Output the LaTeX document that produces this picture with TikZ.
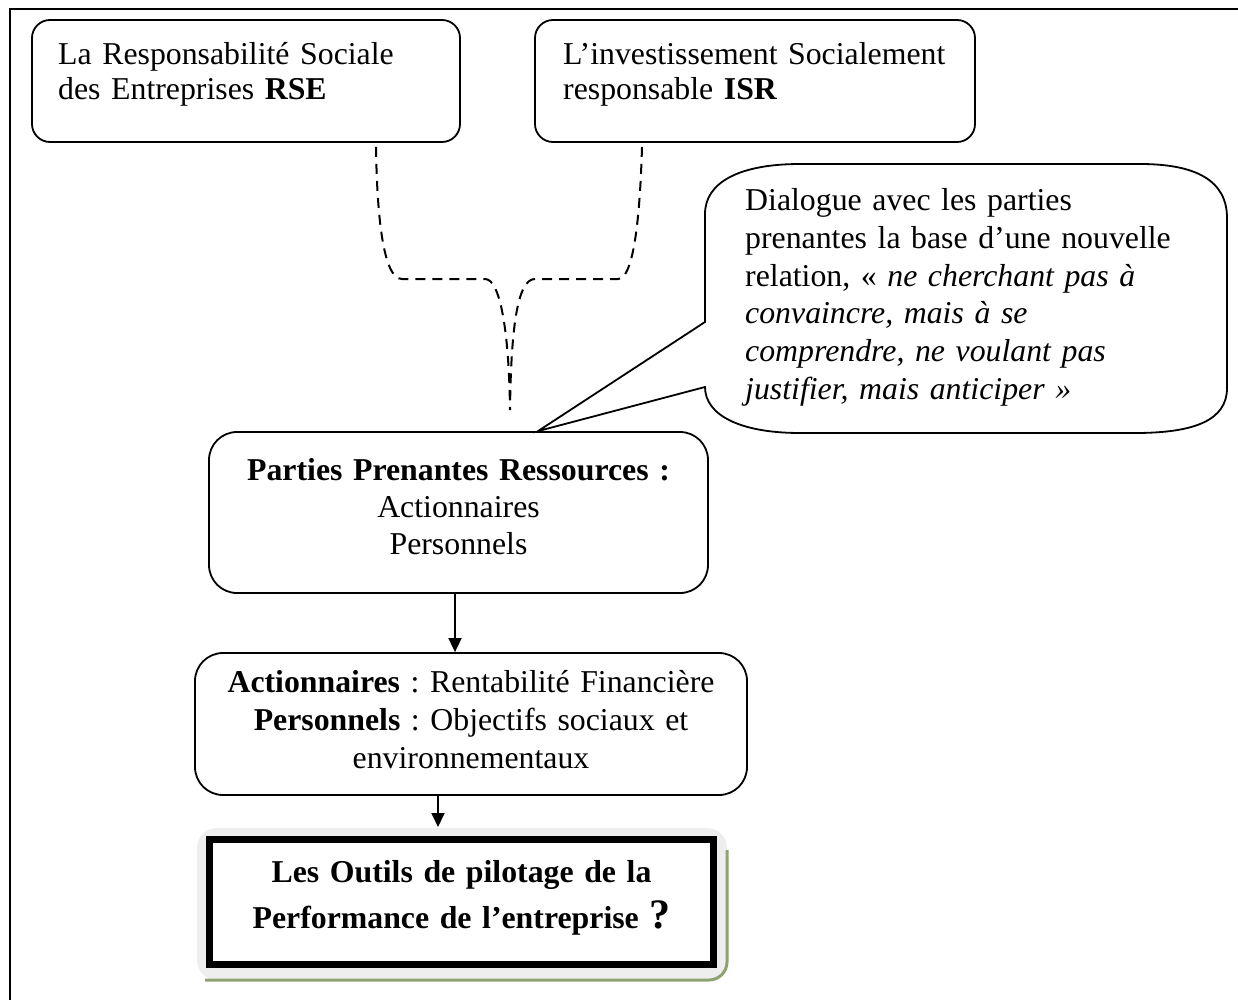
\documentclass[tikz,border=0pt]{standalone}
\usepackage{fontspec}
\setmainfont{Liberation Serif}
\usetikzlibrary{arrows.meta,calc}
\definecolor{bevelgray}{RGB}{238,238,238}
\definecolor{bevelgreen}{RGB}{140,162,112}
\begin{document}
\frenchspacing
\begin{tikzpicture}[x=1pt,y=-1pt,
  every node/.style={font=\fontsize{31.8}{36.6}\selectfont},
  rbox/.style={draw, line width=1.8pt, rounded corners=18pt, inner sep=0pt},
  txt/.style={inner sep=0pt},
  dashline/.style={line width=2pt, dash pattern=on 10pt off 7pt},
  flow/.style={line width=1.8pt, -{Triangle[length=14pt,width=13pt]}},
  callout/.style={draw, line width=1.8pt, fill=white}
]
\useasboundingbox (0,0) rectangle (1238,1000);

% page frame
\draw[line width=1.6pt] (10,1000) -- (10,9) -- (1238,9);

% top boxes
\node[rbox, minimum width=428pt, minimum height=122pt] (rse) at (246,81) {};
\node[txt, anchor=base west, text width=390pt, align=left,
      font=\fontsize{31.8}{35}\selectfont] (rsetxt) at (58,65)
  {La Responsabilité Sociale\\des Entreprises \textbf{RSE}};

\node[rbox, minimum width=440pt, minimum height=122pt] (isr) at (755,81) {};
\node[txt, anchor=base west, text width=400pt, align=left,
      font=\fontsize{31.8}{35}\selectfont] (isrtxt) at (563,65)
  {L’investissement Socialement\\responsable \textbf{ISR}};

% stakeholders box
\node[rbox, rounded corners=28pt, minimum width=499pt, minimum height=161pt] (parties) at (458.5,512.5) {};
\node[txt, anchor=base, text width=480pt, align=center,
      font=\fontsize{31.8}{37}\selectfont] (partiestxt) at (458.5,480)
  {\textbf{Parties Prenantes Ressources :}\\Actionnaires\\Personnels};

% dashed brace joining the two top boxes
\coordinate (join) at (510,410);
\draw[dashline] ([xshift=130pt,yshift=-4pt]rse.south)
  .. controls (377,215) and (383,279) .. (402,279) -- (485,279)
  .. controls (500,279) and (509,330) .. (join);
\draw[dashline] ([xshift=-113pt,yshift=-4pt]isr.south)
  .. controls (640,215) and (634,279) .. (618,279) -- (535,279)
  .. controls (517,279) and (511,330) .. (join);

% speech bubble
\coordinate (tip) at ([xshift=79.5pt]parties.north);
\draw[callout] (800,164) -- (1140,164)
  .. controls (1195,164) and (1227,180) .. (1227,218) -- (1227,388)
  .. controls (1227,420) and (1195,433) .. (1135,433) -- (800,433)
  .. controls (740,433) and (705,415) .. (705,387) -- (tip) -- (705,322)
  -- (705,214) .. controls (705,182) and (740,164) .. (800,164) -- cycle;
\node[txt, anchor=base west, text width=470pt, align=left,
      font=\fontsize{31.8}{37.6}\selectfont] (dialogue) at (745,211)
  {Dialogue avec les parties\\
   prenantes la base d’une nouvelle\\
   relation, « \textit{ne cherchant pas à}\\
   \textit{convaincre, mais à se}\\
   \textit{comprendre, ne voulant pas}\\
   \textit{justifier, mais anticiper »}};

% objectives box
\node[rbox, rounded corners=28pt, minimum width=552pt, minimum height=142pt] (objectifs) at (471,724) {};
\node[txt, anchor=base, text width=540pt, align=center,
      font=\fontsize{31.8}{38}\selectfont] (objtxt) at (471,692)
  {\textbf{Actionnaires} : Rentabilité Financière\\
   \textbf{Personnels} : Objectifs sociaux et\\
   environnementaux};

% bevelled frame behind the final box
\fill[bevelgray, rounded corners=20pt] (197,828) rectangle (727,980);
\draw[bevelgreen, line width=3pt, rounded corners=18pt] (727,850) -- (727,980) -- (205,980);

% final box
\node[draw, line width=7pt, fill=white, minimum width=504pt, minimum height=125pt, inner sep=0pt] (outils) at (461.5,902) {};
\node[txt, anchor=base, text width=500pt, align=center,
      font=\fontsize{31.8}{46}\selectfont\bfseries] (outilstxt) at (461.5,882)
  {Les Outils de pilotage de la\\
   Performance de l’entreprise {\fontsize{42}{42}\selectfont ?}};

% arrows
\coordinate (a1s) at ([xshift=-3.5pt]parties.south);
\draw[flow] (a1s) -- (a1s |- objectifs.north);
\coordinate (a2s) at ([xshift=-33pt]objectifs.south);
\coordinate (a2e) at (a2s |- outils.north);
\draw[flow] (a2s) -- ([yshift=9pt]a2e);
\end{tikzpicture}
\end{document}
